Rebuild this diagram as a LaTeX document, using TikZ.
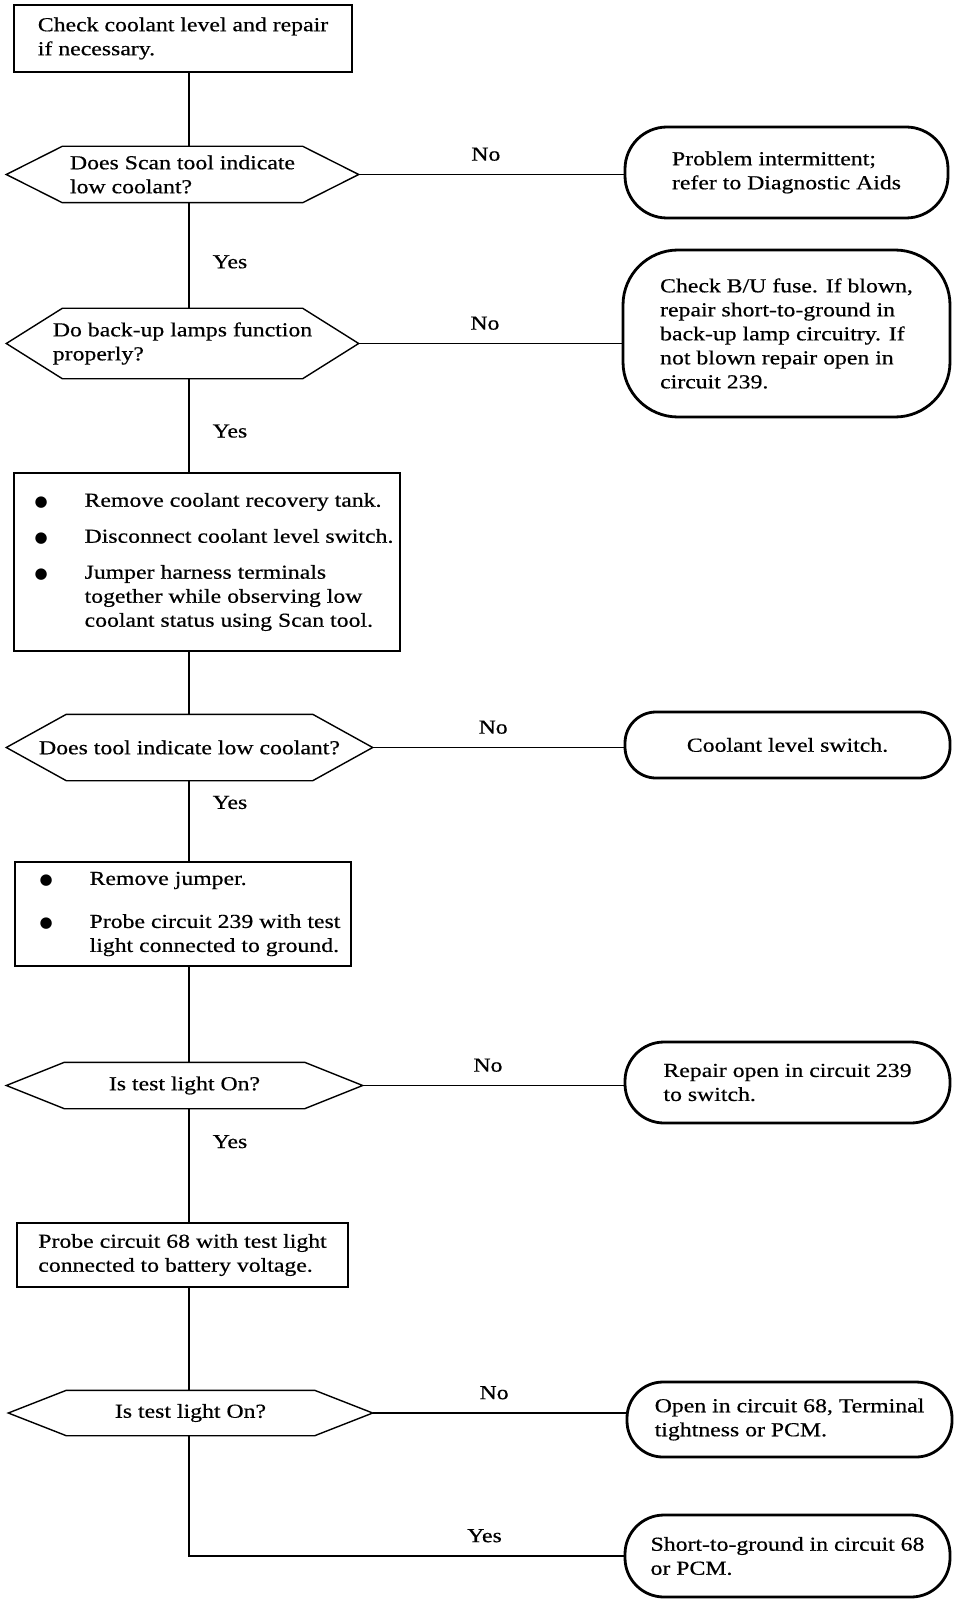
\documentclass[tikz,border=0pt]{standalone}
\usepackage{fontspec}
\setmainfont{Liberation Serif}[FakeStretch=1.2,FakeBold=0.5]
\newfontfamily\symfont{DejaVu Sans}
\usetikzlibrary{positioning}
\newcommand{\bitem}{\makebox[64pt][l]{\hspace*{14pt}{\symfont\fontsize{15}{15}\selectfont ●}}}
\newcommand{\bcont}{\hspace*{64pt}}
% pointed outline round a query node: name, depth of the points
\newcommand{\drawquery}[2]{%
  \draw[line join=miter] ([xshift=#2]#1.north west) -- ([xshift=-#2]#1.north east) -- (#1.east)
    -- ([xshift=-#2]#1.south east) -- ([xshift=#2]#1.south west) -- (#1.west) -- cycle;}

\begin{document}
\begin{tikzpicture}[x=1pt,y=-1pt,line width=1.4pt]
    \tikzset{txt/.style={font=\fontsize{19.8}{24}\selectfont,align=left},
      stepbox/.style={txt,draw,rectangle,inner sep=0pt},
      query/.style={txt,rectangle,inner sep=0pt},
      endbox/.style={txt,draw,rectangle,rounded corners=#1,line width=2.8pt,inner sep=0pt},
      lbl/.style={font=\fontsize{19.8}{24}\selectfont,inner sep=0pt}}
    \useasboundingbox (0,0) rectangle (960,1602);
    \coordinate (spine) at (189,0);
    % main column
    \node[stepbox,minimum width=338,minimum height=67] (chk) at (183,38.5)
      {Check coolant level and repair\\if necessary.};
    \node[query,minimum width=351,minimum height=55] (q1) at (182.5,174.5)
      {Does Scan tool indicate\\low coolant?};
    \node[query,minimum width=351,minimum height=69] (q2) at (182.5,343.5)
      {Do back-up lamps function\\properly?};
    \node[stepbox,minimum width=386,minimum height=178] (prep) at (207,562)
      {\bitem Remove coolant recovery tank.\\[12pt]
       \bitem Disconnect coolant level switch.\\[12pt]
       \bitem Jumper harness terminals\\
       \bcont together while observing low\\
       \bcont coolant status using Scan tool.};
    \node[query,minimum width=365,minimum height=65] (q3) at (189.5,747.5)
      {Does tool indicate low coolant?};
    \node[stepbox,minimum width=336,minimum height=104] (probe1) at (183,914)
      {\bitem Remove jumper.\\[19pt]
       \bitem Probe circuit 239 with test\\
       \bcont light connected to ground.};
    \node[query,minimum width=355,minimum height=45] (q4) at (184.5,1085.5)
      {Is test light On?};
    \node[stepbox,minimum width=331,minimum height=64] (probe2) at (182.5,1255)
      {Probe circuit 68 with test light\\connected to battery voltage.};
    \node[query,minimum width=363,minimum height=44] (q5) at (190.5,1413)
      {Is test light On?};
    \drawquery{q1}{56}
    \drawquery{q2}{56}
    \drawquery{q3}{60}
    \drawquery{q4}{58}
    \drawquery{q5}{58}
    % results
    \node[endbox=42,minimum width=323,minimum height=91] (t1) at (786.5,172.5)
      {Problem intermittent;\\refer to Diagnostic Aids};
    \node[endbox=55,minimum width=327,minimum height=167] (t2) at (786.5,333.5)
      {Check B/U fuse. If blown,\\repair short-to-ground in\\back-up lamp circuitry. If\\not blown repair open in\\circuit 239.};
    \node[endbox=31,minimum width=325,minimum height=66] (t3) at (787.5,745)
      {Coolant level switch.};
    \node[endbox=39,minimum width=325,minimum height=81] (t4) at (787.5,1082.5)
      {Repair open in circuit 239\\to switch.};
    \node[endbox=36,minimum width=325,minimum height=75] (t5) at (789.5,1419.5)
      {Open in circuit 68, Terminal\\tightness or PCM.};
    \node[endbox=39,minimum width=325,minimum height=82] (t6) at (787.5,1556)
      {Short-to-ground in circuit 68\\or PCM.};
    % connectors
    \draw (chk.south -| spine) -- (q1.north -| spine);
    \draw (q1.south -| spine) -- node[lbl,right=23pt,pos=0.56] {Yes} (q2.north -| spine);
    \draw (q2.south -| spine) -- node[lbl,right=23pt,pos=0.56] {Yes} (prep.north -| spine);
    \draw (prep.south -| spine) -- (q3.north -| spine);
    \draw (q3.south -| spine) -- node[lbl,right=23pt,pos=0.27] {Yes} (probe1.north -| spine);
    \draw (probe1.south -| spine) -- (q4.north -| spine);
    \draw (q4.south -| spine) -- node[lbl,right=23pt,pos=0.29] {Yes} (probe2.north -| spine);
    \draw (probe2.south -| spine) -- (q5.north -| spine);
    \draw (q5.south -| spine) |- node[lbl,above=13pt,pos=0.84] {Yes} (t6.west);
    \draw (q1.east) -- node[lbl,above=13pt,pos=0.48] {No} (q1.east -| t1.west);
    \draw (q2.east) -- node[lbl,above=13pt,pos=0.48] {No} (q2.east -| t2.west);
    \draw (q3.east) -- node[lbl,above=13pt,pos=0.48] {No} (q3.east -| t3.west);
    \draw (q4.east) -- node[lbl,above=13pt,pos=0.48] {No} (q4.east -| t4.west);
    \draw (q5.east) -- node[lbl,above=13pt,pos=0.48] {No} (q5.east -| t5.west);
  \end{tikzpicture}
\end{document}
